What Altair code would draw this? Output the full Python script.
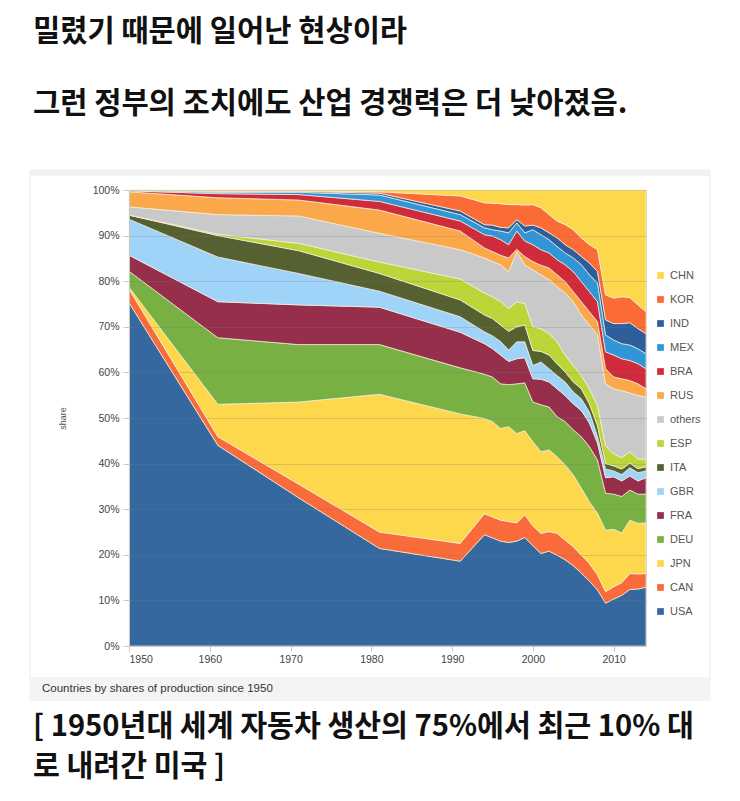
import altair as alt
import pandas as pd

YEARS = [1950, 1961, 1971, 1981, 1991, 1994, 1995, 1996, 1997, 1998, 1999, 2000,
         2001, 2002, 2003, 2004, 2005, 2006, 2007, 2008, 2009, 2010, 2011, 2012, 2013, 2014]

USA = [75.3, 44.0, 32.5, 21.4, 18.6, 24.4, 23.7, 23.0, 22.7, 23.0, 23.8, 22.0, 20.3, 20.8, 19.9, 18.9, 17.6, 16.0, 14.2, 12.3, 9.4, 10.3, 11.1, 12.4, 12.5, 12.9]
CAN = [3.0, 1.9, 3.0, 3.6, 3.9, 4.6, 4.6, 4.6, 4.6, 4.0, 5.0, 4.3, 4.4, 4.3, 4.8, 4.3, 4.2, 3.9, 3.9, 3.3, 2.5, 2.7, 2.8, 3.5, 3.3, 3.0]
JPN = [0.4, 7.1, 18.0, 30.2, 28.4, 20.9, 20.9, 20.1, 20.8, 19.6, 18.4, 18.5, 17.9, 17.9, 16.8, 16.5, 15.7, 14.7, 13.5, 13.5, 13.5, 12.6, 10.9, 11.7, 11.1, 11.1]
DEU = [3.5, 14.6, 12.6, 10.9, 10.1, 9.7, 9.8, 9.8, 9.2, 10.9, 10.5, 8.7, 10.3, 9.4, 8.8, 9.5, 9.9, 11.3, 12.1, 11.7, 8.1, 7.7, 8.0, 6.6, 6.4, 6.3]
FRA = [3.5, 7.9, 8.7, 8.2, 7.8, 6.7, 6.2, 6.3, 5.1, 5.5, 5.5, 5.1, 5.6, 5.5, 6.1, 5.7, 5.7, 5.7, 5.2, 3.7, 3.4, 3.8, 3.4, 3.1, 2.9, 3.6]
GBR = [7.9, 9.8, 6.9, 3.5, 3.4, 2.6, 2.8, 3.0, 2.5, 3.7, 3.5, 2.9, 3.8, 2.9, 2.9, 3.0, 2.6, 2.6, 2.4, 1.5, 1.9, 1.3, 1.4, 1.8, 1.8, 1.5]
ITA = [0.9, 4.7, 5.0, 3.9, 3.7, 3.7, 3.8, 3.6, 4.1, 3.3, 3.7, 3.3, 2.3, 3.0, 2.6, 2.2, 2.2, 2.2, 1.8, 2.3, 1.2, 1.1, 1.2, 1.0, 0.9, 0.9]
ESP = [0.0, 0.3, 1.6, 2.5, 4.6, 4.8, 4.8, 5.1, 5.0, 5.5, 4.7, 5.2, 5.0, 4.7, 4.8, 3.7, 3.6, 2.9, 3.3, 4.4, 3.9, 2.6, 2.5, 2.5, 2.1, 1.7]
OTHERS = [1.8, 4.3, 6.0, 6.3, 6.4, 7.7, 7.7, 8.1, 8.1, 11.0, 8.5, 12.5, 11.8, 11.8, 12.1, 13.6, 14.0, 13.3, 14.0, 15.5, 13.6, 14.3, 14.7, 12.9, 13.9, 13.6]
RUS = [3.3, 3.7, 3.5, 5.1, 4.1, 2.2, 2.2, 2.1, 3.0, 0.5, 1.8, 1.8, 2.1, 2.6, 2.6, 2.5, 2.2, 2.9, 2.9, 2.9, 3.3, 2.6, 2.6, 2.7, 2.6, 1.8]
BRA = [0.2, 0.9, 1.2, 1.9, 2.2, 2.9, 3.4, 3.4, 2.9, 4.0, 3.4, 3.7, 3.4, 3.3, 3.3, 3.7, 4.4, 4.4, 4.4, 4.4, 3.7, 4.8, 4.4, 4.4, 4.4, 4.4]
MEX = [0.1, 0.3, 0.5, 1.4, 1.4, 1.5, 1.4, 1.9, 2.6, 1.8, 1.8, 3.3, 3.3, 2.9, 2.9, 2.6, 3.0, 3.7, 3.7, 4.1, 3.7, 3.3, 3.3, 3.4, 3.3, 3.3]
IND = [0.1, 0.2, 0.2, 0.4, 0.8, 0.7, 1.0, 0.8, 1.1, 0.7, 1.5, 1.0, 1.5, 1.5, 1.9, 1.8, 1.8, 1.8, 2.6, 2.5, 3.3, 3.6, 4.4, 4.9, 4.4, 4.4]
KOR = [0.0, 0.1, 0.1, 0.3, 3.3, 4.8, 4.8, 5.2, 5.1, 3.3, 4.6, 4.5, 4.4, 4.0, 3.7, 4.4, 4.4, 4.1, 4.0, 4.8, 5.5, 5.6, 5.9, 5.5, 5.2, 4.8]
CHN = [0.0, 0.2, 0.2, 0.4, 1.3, 2.8, 2.9, 3.0, 3.2, 3.2, 3.3, 3.2, 3.9, 5.4, 6.8, 7.6, 8.7, 10.5, 12.0, 13.1, 23.0, 23.7, 23.4, 23.6, 25.2, 26.7]

STACK_ORDER = ["USA", "CAN", "JPN", "DEU", "FRA", "GBR", "ITA", "ESP", "others",
               "RUS", "BRA", "MEX", "IND", "KOR", "CHN"]
SERIES = {"USA": USA, "CAN": CAN, "JPN": JPN, "DEU": DEU, "FRA": FRA, "GBR": GBR,
          "ITA": ITA, "ESP": ESP, "others": OTHERS, "RUS": RUS, "BRA": BRA,
          "MEX": MEX, "IND": IND, "KOR": KOR, "CHN": CHN}
COLORS = {"USA": "#35689f", "CAN": "#f96b3a", "JPN": "#fdd84c", "DEU": "#79b044",
          "FRA": "#952f4b", "GBR": "#a0d3f8", "ITA": "#566132", "ESP": "#bcd63a",
          "others": "#c9c9c9", "RUS": "#fba84a", "BRA": "#cf2b3b", "MEX": "#3096d6",
          "IND": "#2b5e9a", "KOR": "#fb6b36", "CHN": "#fdd84c"}
LEGEND_ORDER = list(reversed(STACK_ORDER))

X_TICKS = [1950, 1960, 1970, 1980, 1990, 2000, 2010]
Y_TICKS = [0, 0.1, 0.2, 0.3, 0.4, 0.5, 0.6, 0.7, 0.8, 0.9, 1.0]

TITLE_LINES = ["밀렸기 때문에 일어난 현상이라", "그런 정부의 조치에도 산업 경쟁력은 더 낮아졌음."]
BOTTOM_LINES = ["[ 1950년대 세계 자동차 생산의 75%에서 최근 10% 대", "로 내려간 미국 ]"]
CAPTION = "Countries by shares of production since 1950"

rows = []
for rank, c in enumerate(STACK_ORDER):
    for yr, v in zip(YEARS, SERIES[c]):
        rows.append({"year": yr, "country": c, "share": v, "rank": rank})
df = pd.DataFrame(rows)

W, H = 517, 456
KFONT = "Noto Sans CJK KR"
LFONT = "Liberation Sans"

one = pd.DataFrame({"k": [0]})

frame = alt.Chart(one).mark_rect(fillOpacity=0, stroke="#ececec", strokeWidth=1).encode(
    x=alt.value(-99), x2=alt.value(581), y=alt.value(-20), y2=alt.value(510))
topband = alt.Chart(one).mark_rect(fill="#f1f1f1").encode(
    x=alt.value(-99), x2=alt.value(581), y=alt.value(-20), y2=alt.value(-14))
capband = alt.Chart(one).mark_rect(fill="#f4f4f4").encode(
    x=alt.value(-99), x2=alt.value(581), y=alt.value(487), y2=alt.value(510))

area = alt.Chart(df).mark_area(
    interpolate="linear", stroke="#f7eedc", strokeWidth=0.8, strokeOpacity=0.9
).encode(
    x=alt.X("year:Q", scale=alt.Scale(domain=[1950, 2014], nice=False, zero=False),
            axis=alt.Axis(values=X_TICKS, format="d", title=None, grid=False,
                          labelFontSize=10.5, labelColor="#444", labelFont=LFONT,
                          tickColor="#c8c8c8", tickSize=5, domainColor="#c8c8c8",
                          labelPadding=3, zindex=1)),
    y=alt.Y("share:Q", stack="normalize",
            scale=alt.Scale(domain=[0, 1], nice=False),
            axis=alt.Axis(values=Y_TICKS, format=".0%", title="share",
                          titleFontSize=9, titleFontWeight="normal", titleColor="#555",
                          titleFont=LFONT, titlePadding=25,
                          labelFontSize=10.5, labelColor="#444", labelFont=LFONT,
                          tickColor="#c8c8c8", tickSize=6, domainColor="#c8c8c8",
                          labelPadding=4,
                          grid=True, gridColor="#777", gridOpacity=0.25, zindex=1)),
    color=alt.Color("country:N",
                    scale=alt.Scale(domain=LEGEND_ORDER,
                                    range=[COLORS[c] for c in LEGEND_ORDER]),
                    legend=alt.Legend(title=None, orient="none", legendX=526, legendY=80,
                                      symbolType="square", symbolSize=45,
                                      symbolStrokeWidth=0, labelFontSize=11,
                                      labelColor="#555", labelFont=LFONT,
                                      rowPadding=12, padding=0, labelOffset=4)),
    order=alt.Order("rank:Q"),
)


def txt(s, x, y, size, bold, font, color="#111"):
    return alt.Chart(pd.DataFrame({"t": [s]})).mark_text(
        align="left", baseline="middle", fontSize=size,
        fontWeight="bold" if bold else "normal", font=font, color=color
    ).encode(x=alt.value(x), y=alt.value(y), text="t:N")


layers = [frame, topband, capband, area,
          txt(TITLE_LINES[0], -96, -158, 29.6, True, KFONT),
          txt(TITLE_LINES[1], -96, -86, 29.6, True, KFONT),
          txt(CAPTION, -87, 499, 11.5, False, LFONT, "#333"),
          txt(BOTTOM_LINES[0], -96, 537, 29.2, True, KFONT),
          txt(BOTTOM_LINES[1], -96, 577, 29.2, True, KFONT)]

chart = alt.layer(*layers).properties(
    width=W, height=H,
    autosize=alt.AutoSizeParams(type="none"),
    padding={"left": 121, "top": 182, "right": 86, "bottom": 140},
    background="white",
).configure_view(stroke="#c8c8c8", strokeWidth=1)

chart.save("out.html", embed_options={"renderer": "svg", "actions": False})
